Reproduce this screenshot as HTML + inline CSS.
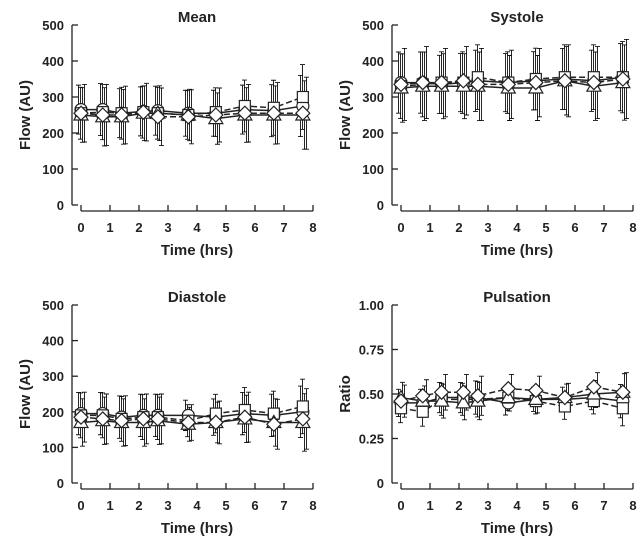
<!DOCTYPE html>
<html><head><meta charset="utf-8"><style>
body{margin:0;background:#fff}
svg{display:block}
text{font-family:"Liberation Sans",sans-serif;font-weight:bold;fill:#222}
</style></head><body>
<svg id="c" width="643" height="545"></svg>
<script>
const times=[0,0.75,1.4,2.15,2.65,3.7,4.65,5.65,6.65,7.65];
const seriesNames=['circle','square','triangle','diamond'];
const meanVals=[[265,265,255,260,262,255,255,265,262,275],[255,258,255,258,255,250,258,275,270,300],[250,245,245,255,255,250,240,250,250,250],[255,250,250,258,245,245,250,255,255,255]];
const meanErr=[80,85,80,80,80,75,75,80,85,100];
const systoleVals=[[340,340,335,340,345,340,345,350,345,355],[330,335,340,340,355,340,350,355,355,355],[325,330,330,330,330,325,325,345,330,340],[335,340,340,345,335,335,340,345,340,350]];
const systoleErr=[100,100,95,95,100,95,95,100,100,110];
const diastoleVals=[[195,195,185,190,190,190,185,195,190,200],[190,190,180,185,185,175,195,205,195,215],[170,175,170,170,175,165,170,180,170,170],[185,180,175,180,180,170,170,185,165,180]];
const diastoleErr=[70,70,70,70,70,50,60,70,70,85];
const pulsVals=[[0.45,0.45,0.48,0.48,0.48,0.45,0.47,0.47,0.48,0.46],[0.42,0.40,0.47,0.47,0.47,0.48,0.46,0.43,0.46,0.42],[0.48,0.46,0.46,0.45,0.46,0.48,0.47,0.48,0.50,0.51],[0.46,0.49,0.51,0.51,0.49,0.53,0.52,0.48,0.54,0.51]];
const pulsErr=[0.09,0.09,0.10,0.10,0.11,0.08,0.08,0.08,0.08,0.11];
const flowTicks=[0,100,200,300,400,500];
const ratioTicks=[0,0.25,0.5,0.75,1.0];
const ratioLabels=['0','0.25','0.50','0.75','1.00'];
const xTicks=[0,1,2,3,4,5,6,7,8];

const NS='http://www.w3.org/2000/svg';
const svg=document.getElementById('c');
function el(tag,attrs,parent,txt){const e=document.createElementNS(NS,tag);for(const k in attrs)e.setAttribute(k,attrs[k]);if(txt!==undefined)e.textContent=txt;(parent||svg).appendChild(e);return e;}

function panel(name,title,ax,top,bot,xaxisY,ymax,yTicks,yLabels,ylab,vals,err){
  const g=el('g',{});
  
  
  const x0=ax+9,x8=ax+241;
  const sx=t=>x0+(x8-x0)*t/8;
  const sy=v=>bot-(bot-top)*v/ymax;
  const t=el('text',{x:(x0+x8)/2,y:top-3,'text-anchor':'middle','font-size':15},g,title);
  
  const ya=el('line',{x1:ax,y1:top,x2:ax,y2:bot,stroke:'#222','stroke-width':1.3},g);
  
  yTicks.forEach((v,i)=>{el('line',{x1:ax,y1:sy(v),x2:ax+6,y2:sy(v),stroke:'#222','stroke-width':1.3},g);
    const tl=el('text',{x:ax-8,y:sy(v)+5,'text-anchor':'end','font-size':13},g,yLabels[i]);
    });
  const xa=el('line',{x1:x0,y1:xaxisY,x2:x8,y2:xaxisY,stroke:'#222','stroke-width':1.3},g);
  
  xTicks.forEach(v=>{el('line',{x1:sx(v),y1:xaxisY,x2:sx(v),y2:xaxisY-6,stroke:'#222','stroke-width':1.3},g);
    const tl=el('text',{x:sx(v),y:xaxisY+21,'text-anchor':'middle','font-size':13},g,String(v));
    });
  const xt=el('text',{x:(x0+x8)/2,y:xaxisY+44,'text-anchor':'middle','font-size':15},g,'Time (hrs)');
  
  const cy=(top+bot)/2;
  const yt=el('text',{x:ax-42,y:cy,'text-anchor':'middle','font-size':15,transform:`rotate(-90 ${ax-42} ${cy})`},g,ylab);
  
  vals.forEach((sv,si)=>{
    sv.forEach((v,i)=>{const x=Math.round(sx(times[i])+(si-1.5)*2)+0.5;
      const e=err[i]*(0.85+0.15*si/3);
      const eb=el('path',{d:`M${x},${sy(v+e)}V${sy(v-e)}M${x-2.5},${sy(v+e)}h5M${x-2.5},${sy(v-e)}h5`,stroke:'#111','stroke-width':0.9,fill:'none'},g);
      });
  });
  vals.forEach((sv,si)=>{
    const dash=(si%2===1)?'6,3':'';
    const pts=sv.map((v,i)=>sx(times[i])+','+sy(v)).join(' ');
    const pl=el('polyline',{points:pts,fill:'none',stroke:'#222','stroke-width':1.5,'stroke-dasharray':dash},g);
    
  });
  vals.forEach((sv,si)=>{
    sv.forEach((v,i)=>{const x=sx(times[i]),y=sy(v);let m;
      const st={fill:'#fff',stroke:'#222','stroke-width':1.2};
      if(si===0)m=el('circle',Object.assign({cx:x,cy:y,r:6},st),g);
      else if(si===1)m=el('rect',Object.assign({x:x-5.5,y:y-5.5,width:11,height:11},st),g);
      else if(si===2)m=el('path',Object.assign({d:`M${x},${y-7}L${x+7},${y+5}L${x-7},${y+5}Z`},st),g);
      else m=el('path',Object.assign({d:`M${x},${y-7}L${x+7},${y}L${x},${y+7}L${x-7},${y}Z`},st),g);
      });
  });
}
const fl=flowTicks.map(String);
panel('mean','Mean',72,25,205,211,500,flowTicks,fl,'Flow (AU)',meanVals,meanErr);
panel('systole','Systole',392,25,205,211,500,flowTicks,fl,'Flow (AU)',systoleVals,systoleErr);
panel('diastole','Diastole',72,305,483,489,500,flowTicks,fl,'Flow (AU)',diastoleVals,diastoleErr);
panel('pulsation','Pulsation',392,305,483,489,1,ratioTicks,ratioLabels,'Ratio',pulsVals,pulsErr);
</script>
</body></html>
